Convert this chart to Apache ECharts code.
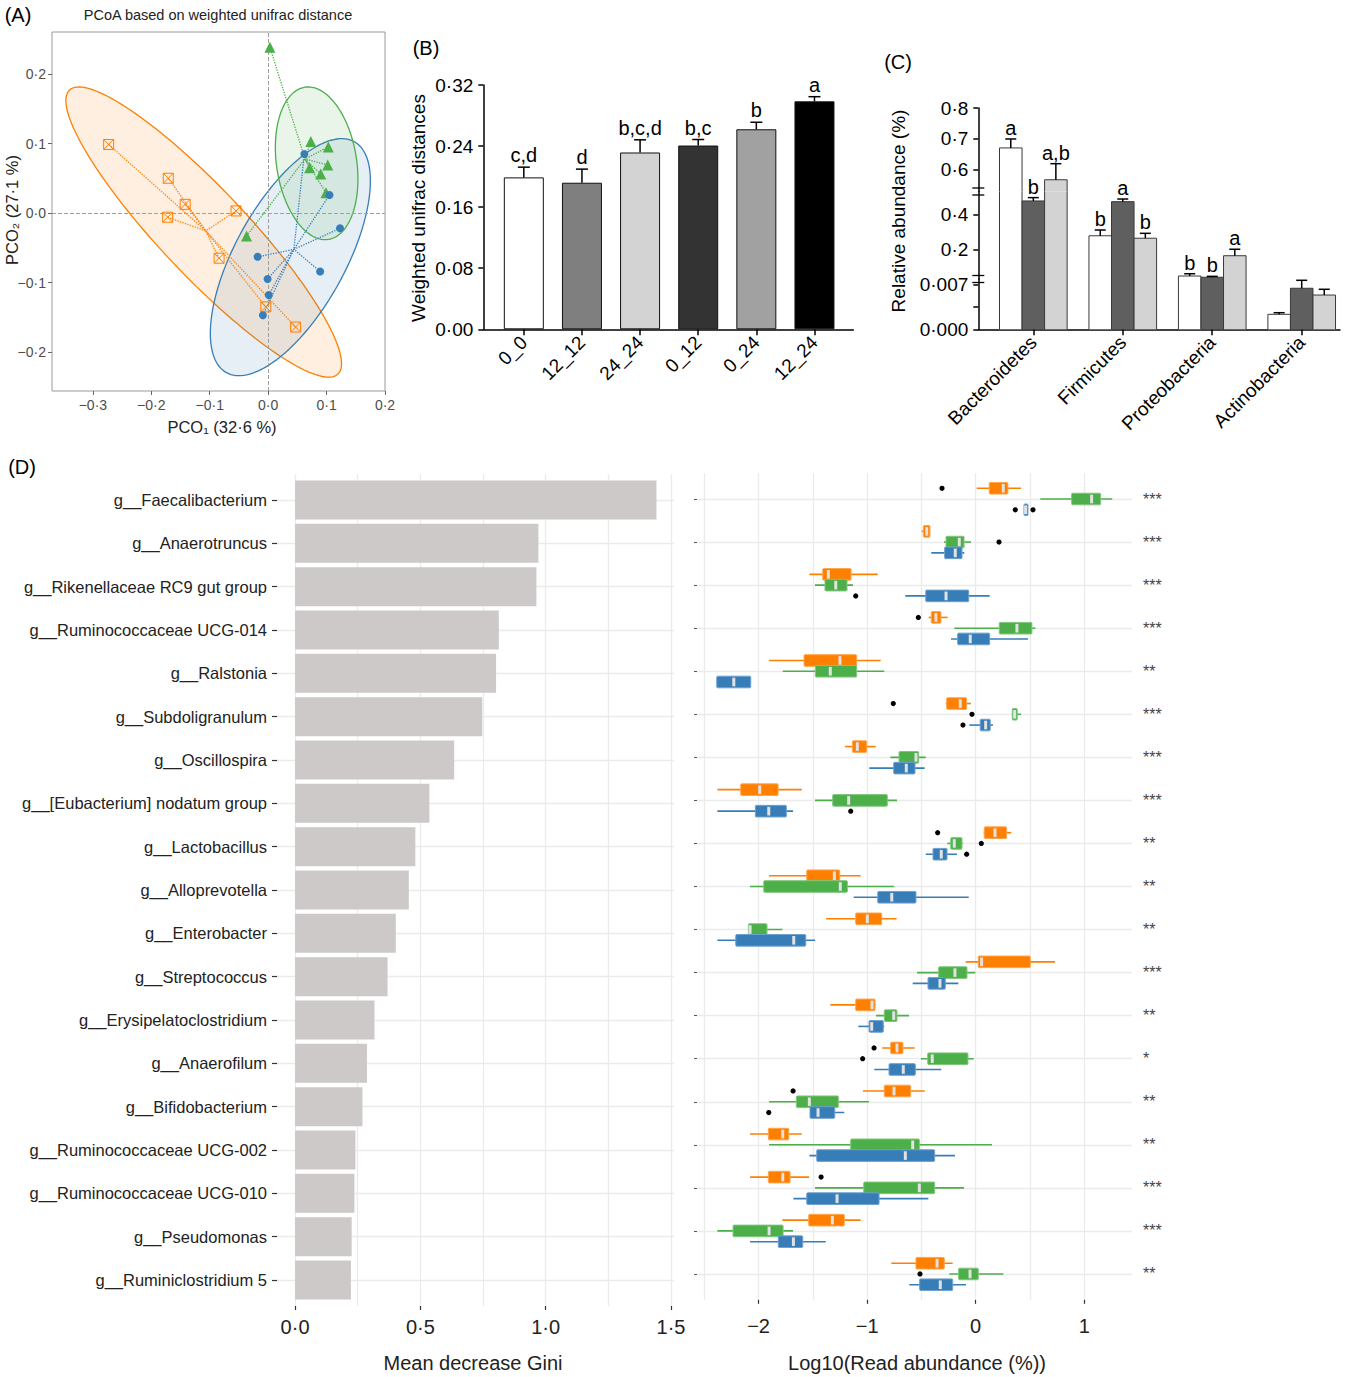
<!DOCTYPE html>
<html>
<head>
<meta charset="utf-8">
<title>Figure</title>
<script src="https://cdn.jsdelivr.net/npm/echarts@6.0.0/dist/echarts.min.js"></script>
<style>
html,body{margin:0;padding:0;background:#ffffff;}
#chart{width:1349px;height:1377px;}
</style>
</head>
<body>
<div id="chart"></div>
<script>
// ================= DATA =================
// ---- Panel A : PCoA (weighted unifrac) ----
const pcoOrange = [[-0.273,0.0986],[-0.171,0.050],[-0.142,0.0125],[-0.172,-0.006],[-0.055,0.003],[-0.084,-0.065],[-0.004,-0.135],[0.047,-0.164]];
const pcoGreen  = [[0.003,0.2385],[0.073,0.103],[0.103,0.095],[0.071,0.065],[0.102,0.069],[0.090,0.056],[0.099,0.029],[-0.037,-0.033]];
const pcoBlue   = [[0.062,0.085],[0.105,0.026],[0.123,-0.022],[-0.018,-0.063],[0.089,-0.084],[-0.001,-0.095],[0.001,-0.118],[-0.009,-0.147]];
// ellipses: [centreX, centreY, semiAxis1 X, semiAxis1 Y, semiAxis2 X, semiAxis2 Y]
const ellipseOrange = [-0.1103,-0.0274,-0.2297,0.2043,0.0539,0.0429];
const ellipseGreen  = [0.083,0.0715,-0.020,0.1095,0.0678,0.00875];
const ellipseBlue   = [0.038,-0.0635,0.1095,0.1661,0.0823,-0.0385];
const pcoXTicks = [-0.3,-0.2,-0.1,0,0.1,0.2];
const pcoYTicks = [-0.2,-0.1,0,0.1,0.2];

// ---- Panel B : weighted unifrac distances ----
const distCats    = ['0_0','12_12','24_24','0_12','0_24','12_24'];
const distMean    = [0.199,0.192,0.2316,0.2407,0.262,0.2986];
const distSem     = [0.0134,0.0178,0.0166,0.0079,0.0092,0.0061];
const distLetters = ['c,d','d','b,c,d','b,c','b','a'];

// ---- Panel C : relative abundance of phyla ----
const phyla        = ['Bacteroidetes','Firmicutes','Proteobacteria','Actinobacteria'];
const abundWhite   = [0.671,0.277,0.047,0.00233];
const abundDark    = [0.476,0.472,0.040,0.00638];
const abundLight   = [0.568,0.263,0.163,0.00533];
const semWhite     = [0.029,0.033,0.013,0.00025];
const semDark      = [0.019,0.015,0.005,0.00124];
const semLight     = [0.052,0.028,0.037,0.00089];
const lettersWhite = ['a','b','b',''];
const lettersDark  = ['b','a','b',''];
const lettersLight = ['a,b','b','a',''];

// ---- Panel D : random forest genera ----
const genera = ['g__Faecalibacterium','g__Anaerotruncus','g__Rikenellaceae RC9 gut group','g__Ruminococcaceae UCG-014','g__Ralstonia','g__Subdoligranulum','g__Oscillospira','g__[Eubacterium] nodatum group','g__Lactobacillus','g__Alloprevotella','g__Enterobacter','g__Streptococcus','g__Erysipelatoclostridium','g__Anaerofilum','g__Bifidobacterium','g__Ruminococcaceae UCG-002','g__Ruminococcaceae UCG-010','g__Pseudomonas','g__Ruminiclostridium 5'];
const gini = [1.442,0.971,0.963,0.813,0.802,0.747,0.635,0.536,0.480,0.454,0.402,0.369,0.317,0.287,0.269,0.241,0.237,0.226,0.223];
const stars = ['***','***','***','***','**','***','***','***','**','**','**','***','**','*','**','**','***','***','**'];
// [whiskerLow, Q1, median, Q3, whiskerHigh]  (log10 read abundance)
const boxOrange = [
 [0.009,0.125,0.254,0.297,0.417],[-0.497,-0.482,-0.451,-0.421,-0.421],[-1.532,-1.409,-1.357,-1.148,-0.902],[-0.433,-0.409,-0.366,-0.320,-0.258],
 [-1.903,-1.581,-1.250,-1.096,-0.875],[-0.276,-0.267,-0.142,-0.083,-0.043],[-1.203,-1.136,-1.090,-1.004,-0.921],[-2.379,-2.164,-1.989,-1.820,-1.602],
 [0.074,0.079,0.178,0.285,0.328],[-1.903,-1.556,-1.302,-1.252,-1.059],[-1.378,-1.105,-0.998,-0.866,-0.728],[-0.092,0.024,0.055,0.503,0.730],
 [-1.339,-1.105,-0.955,-0.927,-0.921],[-0.860,-0.783,-0.725,-0.670,-0.562],[-1.038,-0.842,-0.752,-0.599,-0.470],[-2.078,-1.910,-1.777,-1.722,-1.602],
 [-2.078,-1.910,-1.777,-1.710,-1.535],[-1.781,-1.538,-1.320,-1.210,-1.059],[-0.777,-0.550,-0.356,-0.289,-0.212]];
const boxGreen = [
 [0.595,0.884,1.068,1.151,1.258],[-0.292,-0.273,-0.151,-0.107,-0.043],[-1.480,-1.388,-1.289,-1.185,-1.130],[-0.197,0.217,0.380,0.518,0.549],
 [-1.777,-1.477,-1.339,-1.096,-0.842],[0.337,0.337,0.359,0.383,0.417],[-0.786,-0.706,-0.550,-0.525,-0.460],[-1.480,-1.317,-1.170,-0.814,-0.725],
 [-0.261,-0.230,-0.197,-0.126,-0.120],[-2.078,-1.952,-1.247,-1.182,-0.750],[-2.094,-2.094,-2.078,-1.922,-1.781],[-0.540,-0.341,-0.191,-0.080,-0.003],
 [-0.918,-0.842,-0.755,-0.725,-0.614],[-0.504,-0.442,-0.400,-0.071,-0.018],[-1.903,-1.652,-1.532,-1.265,-0.983],[-1.903,-1.151,-0.580,-0.519,0.150],
 [-1.480,-1.031,-0.519,-0.378,-0.108],[-2.379,-2.235,-1.903,-1.774,-1.682],[-0.243,-0.157,-0.052,0.024,0.254]];
const boxBlue = [
 [0.445,0.445,0.460,0.482,0.482],[-0.409,-0.286,-0.188,-0.126,-0.105],[-0.648,-0.460,-0.273,-0.064,0.129],[-0.227,-0.166,-0.050,0.129,0.482],
 [-2.385,-2.385,-2.228,-2.072,-2.072],[-0.059,0.042,0.092,0.134,0.159],[-0.980,-0.755,-0.639,-0.559,-0.470],[-2.379,-2.029,-1.906,-1.744,-1.682],
 [-0.460,-0.393,-0.317,-0.264,-0.172],[-1.124,-0.902,-0.773,-0.550,-0.064],[-2.379,-2.210,-1.676,-1.565,-1.480],[-0.580,-0.439,-0.329,-0.280,-0.160],
 [-1.081,-0.982,-0.958,-0.851,-0.842],[-0.934,-0.798,-0.667,-0.556,-0.317],[-1.526,-1.526,-1.452,-1.298,-1.210],[-1.532,-1.464,-0.648,-0.378,-0.191],
 [-1.679,-1.556,-1.277,-0.890,-0.436],[-2.078,-1.818,-1.679,-1.593,-1.381],[-0.611,-0.516,-0.326,-0.212,-0.089]];
// [genusIndex, group (0 orange,1 green,2 blue), value]
const outliers = [[0,0,-0.310],[0,2,0.365],[0,2,0.528],[1,1,0.215],[2,2,-1.105],[3,0,-0.528],[5,0,-0.759],[5,1,-0.034],[5,2,-0.117],
 [7,2,-1.151],[8,0,-0.350],[8,1,0.052],[8,2,-0.083],[13,0,-0.936],[13,1,-1.041],[14,0,-1.682],[14,2,-1.906],[16,0,-1.424],[18,1,-0.513]];
const giniLabelTicks = [0,0.5,1,1.5];
const giniGridTicks = [0,0.25,0.5,0.75,1,1.25,1.5];
const logLabelTicks = [-2,-1,0,1];
const logGridTicks = [-2.5,-2,-1.5,-1,-0.5,0,0.5,1];

// ================= STYLE / HELPERS =================
const FONT = "'Liberation Sans', Arial, Helvetica, sans-serif";
const ORANGE = '#ff7f00', GREEN = '#4daf4a', BLUE = '#377eb8';
const fmtDot = (v, d) => (v < -1e-9 ? '\u2212' : '') + Math.abs(v).toFixed(d).replace('.', '\u00b7');
function ln(x1, y1, x2, y2, color, w) {
  return {type: 'line', shape: {x1: x1, y1: y1, x2: x2, y2: y2}, style: {stroke: color, lineWidth: w}};
}
function tx(x, y, s, size, va) {
  return {type: 'text', x: x, y: y, style: {text: s, fill: '#000', fontSize: size, fontFamily: FONT,
    textAlign: 'center', textVerticalAlign: va || 'bottom', align: 'center', verticalAlign: va || 'bottom'}};
}
function gtext(x, y, s, size, rot, color) {
  return {type: 'text', x: x, y: y, rotation: rot || 0, silent: true,
    style: {text: s, fontSize: size, fontFamily: FONT, fill: color || '#000',
      textAlign: 'center', textVerticalAlign: 'middle', align: 'center', verticalAlign: 'middle'}};
}

// ---- Panel A helpers ----
function ellipseRenderer(fill, stroke) {
  return function (params, api) {
    const cx = api.value(0), cy = api.value(1), ux = api.value(2), uy = api.value(3), vx = api.value(4), vy = api.value(5);
    const pts = [];
    for (let k = 0; k < 144; k++) {
      const t = 2 * Math.PI * k / 144;
      pts.push(api.coord([cx + ux * Math.cos(t) + vx * Math.sin(t), cy + uy * Math.cos(t) + vy * Math.sin(t)]));
    }
    return {type: 'polygon', shape: {points: pts}, style: {fill: fill, stroke: stroke, lineWidth: 1.3}};
  };
}
function spider(points) {
  const cx = points.reduce((s, p) => s + p[0], 0) / points.length;
  const cy = points.reduce((s, p) => s + p[1], 0) / points.length;
  return points.map(p => ({coords: [p, [cx, cy]]}));
}
const NOLINE = {show: false, onZero: false};

// ---- Panel B helpers ----
const distColors = ['#ffffff', '#7f7f7f', '#d3d3d3', '#333333', '#a1a1a1', '#000000'];
function distErrRender(params, api) {
  const i = api.value(0), m = api.value(1), e = api.value(2);
  const pb = api.coord([i, m]), pt = api.coord([i, m + e]);
  return {type: 'group', children: [
    ln(pb[0], pb[1], pt[0], pt[1], '#000', 1.5),
    ln(pt[0] - 6, pt[1], pt[0] + 6, pt[1], '#000', 1.5),
    tx(pt[0], pt[1] - 2, distLetters[params.dataIndex], 20)
  ]};
}

// ---- Panel C helpers (broken y axis: three stacked segments) ----
const C_XMIN = -0.615, C_XMAX = 3.428;
const cSegs = [[0, 0.00782], [0.03, 0.53], [0.53, 0.8]];
const cFill = ['#ffffff', '#5f5f5f', '#d3d3d3'];
const cLetters = [lettersWhite, lettersDark, lettersLight];
const cSems = [semWhite, semDark, semLight];
const cBarW = 0.252;
const cData = [];
[abundWhite, abundDark, abundLight].forEach((arr, s) => arr.forEach((v, g) => cData.push([g, s, v, cSems[s][g]])));
function makeCRender(seg) {
  return function (params, api) {
    const g = api.value(0), s = api.value(1), v = api.value(2), e = api.value(3);
    const lo = seg[0], hi = seg[1];
    const xl = g - 1.5 * cBarW + s * cBarW, xr = xl + cBarW, xc = xl + cBarW / 2;
    const ch = [];
    if (v > lo) {
      const top = Math.min(v, hi);
      const a = api.coord([xl, lo]), b = api.coord([xr, top]);
      ch.push({type: 'rect', shape: {x: a[0], y: b[1], width: b[0] - a[0], height: a[1] - b[1]}, style: {fill: cFill[s]}});
      ch.push(ln(a[0], a[1], a[0], b[1], '#3a3a3a', 1));
      ch.push(ln(b[0], a[1], b[0], b[1], '#3a3a3a', 1));
      if (v <= hi) ch.push(ln(a[0], b[1], b[0], b[1], '#3a3a3a', 1));
    }
    const et = v + e;
    const y0 = Math.max(v, lo), y1 = Math.min(et, hi);
    if (y1 > y0) {
      const p0 = api.coord([xc, y0]), p1 = api.coord([xc, y1]);
      ch.push(ln(p0[0], p0[1], p1[0], p1[1], '#000', 1.5));
    }
    if (et > lo && et <= hi) {
      const p = api.coord([xc, et]);
      ch.push(ln(p[0] - 5.5, p[1], p[0] + 5.5, p[1], '#000', 1.5));
      const lab = cLetters[s][g];
      if (lab) ch.push(tx(p[0], p[1] - 1, lab, 20));
    }
    return {type: 'group', children: ch};
  };
}
function breakRender(params, api) {
  const p = api.coord([api.value(0), api.value(1)]);
  return {type: 'group', children: [
    ln(p[0] - 6, p[1] - 3.5, p[0] + 6, p[1] - 3.5, '#000', 1.3),
    ln(p[0] - 6, p[1] + 3.5, p[0] + 6, p[1] + 3.5, '#000', 1.3)
  ]};
}
const cYAxis = (grid, seg, ticks, labels, dec) => ({
  gridIndex: grid, type: 'value', min: seg[0], max: seg[1],
  axisLine: {show: true, onZero: false, lineStyle: {color: '#000', width: 1.5}},
  axisTick: {show: true, customValues: ticks, length: 5, lineStyle: {color: '#000', width: 1.5}},
  axisLabel: {customValues: labels, formatter: v => fmtDot(v, dec), fontSize: 19, color: '#000', margin: 10, fontFamily: FONT},
  splitLine: {show: false}
});
const cXHidden = grid => ({gridIndex: grid, type: 'value', min: C_XMIN, max: C_XMAX, show: false, axisLine: NOLINE, splitLine: {show: false}});

// ---- Panel D helpers ----
const groupColor = [ORANGE, GREEN, BLUE];
const groupEdge = ['#ffa64d', '#80c77d', '#6fa0cf'];
const groupOffset = [-0.25, 0, 0.25];
const boxData = [];
[boxOrange, boxGreen, boxBlue].forEach((arr, g) => arr.forEach((b, i) => boxData.push([i, g].concat(b))));
function giniRender(params, api) {
  const i = api.value(0), v = api.value(1);
  const p0 = api.coord([0, i]), p1 = api.coord([v, i]);
  const h = api.size([0, 0.9])[1];
  return {type: 'rect', shape: {x: p0[0], y: p0[1] - h / 2, width: p1[0] - p0[0], height: h}, style: {fill: '#cdc9c9'}};
}
function boxRender(params, api) {
  const i = api.value(0), g = api.value(1);
  const w0 = api.value(2), q1 = api.value(3), md = api.value(4), q3 = api.value(5), w1 = api.value(6);
  const yc = api.coord([0, i + groupOffset[g]])[1];
  const h = api.size([0, 0.27])[1];
  const X = v => api.coord([v, i])[0];
  const xq1 = X(q1), xq3 = X(q3), xm = X(md);
  return {type: 'group', children: [
    ln(X(w0), yc, X(w1), yc, groupColor[g], 1.6),
    {type: 'rect', shape: {x: xq1, y: yc - h / 2, width: Math.max(xq3 - xq1, 0.5), height: h, r: 1},
      style: {fill: groupColor[g], stroke: groupEdge[g], lineWidth: 1}},
    ln(xm, yc - h / 2 + 1.5, xm, yc + h / 2 - 1.5, '#e2e2e2', 3)
  ]};
}
function outlierRender(params, api) {
  const i = api.value(0), g = api.value(1), v = api.value(2);
  const p = api.coord([v, i + groupOffset[g]]);
  return {type: 'circle', shape: {cx: p[0], cy: p[1], r: 2.6}, style: {fill: '#000'}};
}
const rowIdx = genera.map((g, i) => i);
const gridLineStyle = {color: '#ebebeb', width: 1.3};

// ================= OPTION =================
const option = {
  animation: false,
  backgroundColor: '#ffffff',
  textStyle: {fontFamily: FONT},
  grid: [
    {left: 52, top: 32, width: 333, height: 359, show: true, borderColor: '#9a9a9a', borderWidth: 1, outerBoundsMode: 'none'},   // 0 A
    {left: 483.3, top: 85, width: 370, height: 244.3, outerBoundsMode: 'none'},                                                  // 1 B
    {left: 978.3, top: 279, width: 361.7, height: 50.3, outerBoundsMode: 'none'},                                                // 2 C bottom
    {left: 978.3, top: 191.5, width: 361.7, height: 87.5, outerBoundsMode: 'none'},                                              // 3 C middle
    {left: 978.3, top: 108.1, width: 361.7, height: 83.4, outerBoundsMode: 'none'},                                              // 4 C top
    {left: 277, top: 474, width: 397, height: 832, outerBoundsMode: 'none'},                                                     // 5 D left
    {left: 697, top: 473.2, width: 435, height: 826.6, outerBoundsMode: 'none'}                                                  // 6 D right
  ],
  xAxis: [
    {gridIndex: 0, type: 'value', min: -0.37, max: 0.2, position: 'bottom', axisLine: NOLINE,
      axisTick: {show: true, customValues: pcoXTicks, length: 4, lineStyle: {color: '#666', width: 1}},
      axisLabel: {customValues: pcoXTicks, formatter: v => fmtDot(v, 1), fontSize: 14, color: '#4d4d4d', margin: 7, fontFamily: FONT},
      splitLine: {show: false}},
    {gridIndex: 1, type: 'value', min: -0.697, max: 5.668, position: 'bottom',
      axisLine: {show: true, onZero: false, lineStyle: {color: '#000', width: 1.5}},
      axisTick: {show: true, customValues: [0,1,2,3,4,5], length: 6, lineStyle: {color: '#000', width: 1.5}},
      axisLabel: {customValues: [0,1,2,3,4,5], formatter: v => distCats[Math.round(v)], rotate: 45, fontSize: 19, color: '#000', margin: 10, fontFamily: FONT},
      splitLine: {show: false}},
    {gridIndex: 2, type: 'value', min: C_XMIN, max: C_XMAX, position: 'bottom',
      axisLine: {show: true, onZero: false, lineStyle: {color: '#000', width: 1.5}},
      axisTick: {show: true, customValues: [0,1,2,3], length: 6, lineStyle: {color: '#000', width: 1.5}},
      axisLabel: {customValues: [0,1,2,3], formatter: v => phyla[Math.round(v)], rotate: 45, fontSize: 19, color: '#000', margin: 10, fontFamily: FONT},
      splitLine: {show: false}},
    cXHidden(3),
    cXHidden(4),
    {gridIndex: 5, type: 'value', min: -0.072, max: 1.512, position: 'bottom',
      axisLine: NOLINE, axisTick: {show: false, customValues: giniGridTicks}, axisLabel: {show: false},
      splitLine: {show: true, lineStyle: gridLineStyle}},
    {gridIndex: 5, type: 'value', min: -0.072, max: 1.512, position: 'bottom',
      axisLine: NOLINE,
      axisTick: {show: true, customValues: giniLabelTicks, length: 4, lineStyle: {color: '#333', width: 1.2}},
      axisLabel: {customValues: giniLabelTicks, formatter: v => fmtDot(v, 1), fontSize: 20, color: '#222', margin: 11, fontFamily: FONT},
      splitLine: {show: false}},
    {gridIndex: 6, type: 'value', min: -2.567, max: 1.44, position: 'bottom',
      axisLine: NOLINE, axisTick: {show: false, customValues: logGridTicks}, axisLabel: {show: false},
      splitLine: {show: true, lineStyle: gridLineStyle}},
    {gridIndex: 6, type: 'value', min: -2.567, max: 1.44, position: 'bottom',
      axisLine: NOLINE,
      axisTick: {show: true, customValues: logLabelTicks, length: 4, lineStyle: {color: '#333', width: 1.2}},
      axisLabel: {customValues: logLabelTicks, formatter: v => fmtDot(v, 0), fontSize: 20, color: '#222', margin: 16, fontFamily: FONT},
      splitLine: {show: false}}
  ],
  yAxis: [
    {gridIndex: 0, type: 'value', min: -0.256, max: 0.2604, position: 'left', axisLine: NOLINE,
      axisTick: {show: true, customValues: pcoYTicks, length: 4, lineStyle: {color: '#666', width: 1}},
      axisLabel: {customValues: pcoYTicks, formatter: v => fmtDot(v, 1), fontSize: 14, color: '#4d4d4d', margin: 6, fontFamily: FONT},
      splitLine: {show: false}},
    {gridIndex: 1, type: 'value', min: 0, max: 0.32, interval: 0.08, position: 'left',
      axisLine: {show: true, onZero: false, lineStyle: {color: '#000', width: 1.5}},
      axisTick: {show: true, length: 5, lineStyle: {color: '#000', width: 1.5}},
      axisLabel: {formatter: v => fmtDot(v, 2), fontSize: 19, color: '#000', margin: 10, fontFamily: FONT},
      splitLine: {show: false}},
    cYAxis(2, cSegs[0], [0, 0.0035, 0.007], [0, 0.007], 3),
    cYAxis(3, cSegs[1], [0.2, 0.4], [0.2, 0.4], 1),
    cYAxis(4, cSegs[2], [0.6, 0.7, 0.8], [0.6, 0.7, 0.8], 1),
    {gridIndex: 5, type: 'value', min: -0.6, max: 18.6, inverse: true, position: 'left',
      axisLine: NOLINE,
      axisTick: {show: true, customValues: rowIdx, length: 5, lineStyle: {color: '#333', width: 1.2}},
      axisLabel: {customValues: rowIdx, formatter: v => genera[Math.round(v)], fontSize: 16.5, color: '#222', margin: 10, fontFamily: FONT},
      splitLine: {show: true, lineStyle: gridLineStyle}},
    {gridIndex: 6, type: 'value', min: -0.6, max: 18.6, inverse: true, position: 'left',
      axisLine: NOLINE,
      axisTick: {show: true, customValues: rowIdx, length: 3, lineStyle: {color: '#555', width: 1}},
      axisLabel: {show: false},
      splitLine: {show: true, lineStyle: gridLineStyle}},
    {gridIndex: 6, type: 'value', min: -0.6, max: 18.6, inverse: true, position: 'right',
      axisLine: NOLINE, axisTick: {show: false},
      axisLabel: {customValues: rowIdx, formatter: v => stars[Math.round(v)], fontSize: 16, color: '#444', margin: 11, align: 'left',
        padding: [5, 0, 0, 0], fontFamily: FONT},
      splitLine: {show: false}}
  ],
  series: [
    // ---------- A ----------
    {type: 'custom', xAxisIndex: 0, yAxisIndex: 0, data: [ellipseOrange], renderItem: ellipseRenderer('rgba(255,127,0,0.12)', ORANGE), z: 1,
      markLine: {silent: true, symbol: ['none', 'none'], label: {show: false}, animation: false,
        lineStyle: {color: '#a0a0a0', type: 'dashed', width: 1}, data: [{xAxis: 0}, {yAxis: 0}]}},
    {type: 'custom', xAxisIndex: 0, yAxisIndex: 0, data: [ellipseBlue], renderItem: ellipseRenderer('rgba(55,126,184,0.12)', BLUE), z: 1},
    {type: 'custom', xAxisIndex: 0, yAxisIndex: 0, data: [ellipseGreen], renderItem: ellipseRenderer('rgba(77,175,74,0.12)', GREEN), z: 1},
    {type: 'lines', coordinateSystem: 'cartesian2d', xAxisIndex: 0, yAxisIndex: 0, data: spider(pcoOrange), z: 3,
      lineStyle: {color: ORANGE, width: 1.3, type: 'dotted', opacity: 1, curveness: 0}},
    {type: 'lines', coordinateSystem: 'cartesian2d', xAxisIndex: 0, yAxisIndex: 0, data: spider(pcoGreen), z: 3,
      lineStyle: {color: GREEN, width: 1.3, type: 'dotted', opacity: 1, curveness: 0}},
    {type: 'lines', coordinateSystem: 'cartesian2d', xAxisIndex: 0, yAxisIndex: 0, data: spider(pcoBlue), z: 3,
      lineStyle: {color: BLUE, width: 1.3, type: 'dotted', opacity: 1, curveness: 0}},
    {type: 'scatter', xAxisIndex: 0, yAxisIndex: 0, data: pcoOrange, z: 5,
      symbol: 'path://M0,0H10V10H0Z M0,0L10,10 M10,0L0,10', symbolSize: 10,
      itemStyle: {color: 'rgba(255,255,255,0)', borderColor: ORANGE, borderWidth: 1, opacity: 1}},
    {type: 'scatter', xAxisIndex: 0, yAxisIndex: 0, data: pcoGreen, z: 5, symbol: 'triangle', symbolSize: 11,
      itemStyle: {color: GREEN, opacity: 1}},
    {type: 'scatter', xAxisIndex: 0, yAxisIndex: 0, data: pcoBlue, z: 5, symbol: 'circle', symbolSize: 8,
      itemStyle: {color: BLUE, opacity: 1}},
    // ---------- B ----------
    {type: 'bar', xAxisIndex: 1, yAxisIndex: 1, barWidth: 40, z: 2,
      data: distMean.map((v, i) => ({value: [i, v], itemStyle: {color: distColors[i]}})),
      itemStyle: {borderColor: '#111', borderWidth: 1}},
    {type: 'custom', xAxisIndex: 1, yAxisIndex: 1, z: 3,
      data: distMean.map((v, i) => [i, v, distSem[i]]), renderItem: distErrRender},
    // ---------- C ----------
    {type: 'custom', xAxisIndex: 2, yAxisIndex: 2, data: cData, renderItem: makeCRender(cSegs[0]), z: 3},
    {type: 'custom', xAxisIndex: 3, yAxisIndex: 3, data: cData, renderItem: makeCRender(cSegs[1]), z: 3},
    {type: 'custom', xAxisIndex: 4, yAxisIndex: 4, data: cData, renderItem: makeCRender(cSegs[2]), z: 3},
    {type: 'custom', xAxisIndex: 3, yAxisIndex: 3, data: [[C_XMIN, cSegs[1][1]], [C_XMIN, cSegs[1][0]]], renderItem: breakRender, z: 4},
    // ---------- D ----------
    {type: 'custom', xAxisIndex: 5, yAxisIndex: 5, data: gini.map((v, i) => [i, v]), renderItem: giniRender, z: 2},
    {type: 'custom', xAxisIndex: 7, yAxisIndex: 6, data: boxData, renderItem: boxRender, z: 3},
    {type: 'custom', xAxisIndex: 7, yAxisIndex: 6, data: outliers, renderItem: outlierRender, z: 4}
  ],
  graphic: [
    gtext(18, 15, '(A)', 20),
    gtext(218, 15, 'PCoA based on weighted unifrac distance', 14.5, 0, '#222'),
    gtext(222, 427, 'PCO\u2081 (32\u00b76 %)', 16.5, 0, '#222'),
    gtext(12, 210, 'PCO\u2082 (27\u00b71 %)', 16.5, Math.PI / 2, '#222'),
    gtext(426, 48, '(B)', 20),
    gtext(418, 208, 'Weighted unifrac distances', 19, Math.PI / 2),
    gtext(898, 62, '(C)', 20),
    gtext(898, 211, 'Relative abundance (%)', 19, Math.PI / 2),
    gtext(22, 467, '(D)', 20),
    gtext(473, 1363, 'Mean decrease Gini', 20, 0, '#222'),
    gtext(917, 1363, 'Log10(Read abundance (%))', 20, 0, '#222')
  ]
};

const chart = echarts.init(document.getElementById('chart'), null, {renderer: 'svg'});
chart.setOption(option);
</script>
</body>
</html>
